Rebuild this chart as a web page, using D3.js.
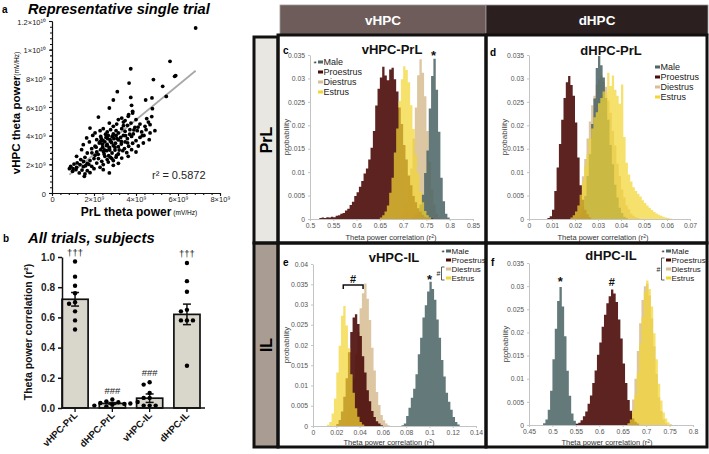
<!DOCTYPE html>
<html><head><meta charset="utf-8">
<script src="https://cdn.jsdelivr.net/npm/d3@7"></script>
<style>body{margin:0;background:#fff}svg{display:block;font-family:"Liberation Sans",Arial,sans-serif}</style>
</head><body><svg id="chart" width="709" height="454"></svg>
<script>
// ---------------- DATA ----------------
// Panel a: PrL theta power (x, ×1e9 mV/Hz) vs vHPC theta power (y, ×1e9 mV/Hz)
const scatterPoints = [
[2.21,5.30],[3.16,5.12],[3.32,5.23],[3.48,5.05],[3.63,5.35],[3.84,5.58],[4.00,5.12],[4.51,5.19],[4.75,5.33],
[2.73,4.88],[2.92,4.65],[3.08,4.81],[3.40,4.95],[3.59,4.72],[3.76,4.88],[3.95,4.58],[4.19,4.81],[4.43,4.65],[4.59,4.95],[4.67,4.77],
[1.81,4.53],[2.05,4.19],[2.29,4.35],[2.44,4.49],[2.63,4.26],[2.79,4.42],[2.92,4.12],[3.05,4.35],[3.16,4.19],[3.32,4.49],[3.48,4.30],[3.71,4.42],[3.87,4.12],[4.06,4.35],[4.27,4.26],[4.48,4.42],[4.67,4.19],[4.90,4.35],
[1.65,3.84],[1.94,4.02],[2.13,3.72],[2.32,3.95],[2.44,3.65],[2.57,3.88],[2.68,4.02],[2.76,3.72],[2.86,3.93],[2.95,3.79],[3.05,4.02],[3.16,3.70],[3.27,3.88],[3.40,4.02],[3.59,3.79],[3.79,3.95],[4.00,3.65],[4.19,3.88],[4.38,4.02],[4.63,3.72],
[1.49,3.37],[1.78,3.56],[2.05,3.26],[2.25,3.49],[2.41,3.19],[2.52,3.56],[2.63,3.37],[2.73,3.19],[2.84,3.51],[2.92,3.30],[3.02,3.47],[3.16,3.23],[3.30,3.42],[3.48,3.56],[3.65,3.26],[3.84,3.47],[4.11,3.28],[4.35,3.49],
[1.41,3.02],[1.68,2.79],[1.89,3.09],[2.13,2.86],[2.32,3.02],[2.48,2.72],[2.60,2.95],[2.73,3.09],[2.86,2.79],[3.00,3.00],[3.16,2.72],[3.37,2.95],[3.56,2.81],[3.79,3.02],[4.00,2.86],
[1.17,2.56],[1.37,2.33],[1.57,2.49],[1.81,2.26],[2.05,2.63],[2.21,2.40],[2.37,2.21],[2.52,2.56],[2.63,2.33],[2.79,2.49],[2.92,2.26],[3.08,2.63],[3.32,2.44],[3.63,2.56],
[0.89,1.86],[1.05,2.02],[1.17,1.79],[1.33,1.98],[1.49,1.84],[1.68,2.07],[1.89,1.86],[2.13,2.09],[2.29,1.79],[2.44,1.98],[2.68,2.16],[2.92,1.93],[3.16,2.07],
[0.83,1.70],[0.98,1.51],[1.14,1.63],[1.30,1.40],[1.43,1.60],[1.57,1.33],[1.68,1.56],[1.81,1.42],[2.00,1.70],[2.44,1.63],[2.73,1.40],[1.54,1.16],
[2.50,3.00],[2.60,3.30],[2.70,2.60],[2.80,3.60],[2.90,4.00],[3.00,3.20],[3.10,3.80],[2.40,3.40],[2.20,2.70],[2.35,3.80],[2.55,4.10],[2.75,3.00],[3.20,3.00],[3.30,3.60],[3.45,3.10],[3.50,4.00],[3.60,3.50],[2.00,2.40],[1.90,2.80],[2.10,3.20],[1.75,2.00],[1.60,1.90],[1.50,2.20],[1.20,2.10],[1.00,1.70],[2.65,3.80],[2.85,2.40],[3.05,2.50],[3.70,4.10],[3.90,4.40],[4.10,4.60],[4.30,4.00],[3.40,4.70],[2.45,2.90],[2.30,3.60],
[6.84,11.51],[5.62,9.19],[5.89,8.19],[5.84,8.14],[3.75,8.67],[3.67,7.67],[4.83,7.91],[5.27,7.44],[5.44,6.74],[3.11,7.07],[2.92,6.49],[3.75,6.67],[4.76,6.63],[4.46,6.49],[2.73,5.93],[3.79,6.12],[3.84,5.70],[4.78,5.88],[3.65,5.47]
];
const fitSlope = 1.206, fitIntercept = 0.28, fitXRange = [0.83, 6.84];
const r2Text = "r² = 0.5872";
const scatterXTicks = [0,2,4,6,8];
const scatterXTickLabels = ["0","2×10⁹","4×10⁹","6×10⁹","8×10⁹"];
const scatterYTicks = [0,2,4,6,8,10,12];
const scatterYTickLabels = ["0","2×10⁹","4×10⁹","6×10⁹","8×10⁹","1×10¹⁰","1.2×10¹⁰"];

// Panel b
const barCategories = ["vHPC-PrL","dHPC-PrL","vHPC-IL","dHPC-IL"];
const barMeans = [0.72,0.03,0.065,0.62];
const barSEM = [0.045,0.006,0.028,0.068];
const barSubjects = [
  [0.97,0.87,0.81,0.76,0.70,0.69,0.64,0.58,0.52],
  [0.056,0.044,0.038,0.033,0.027,0.022,0.016,0.011,0.030],
  [0.171,0.155,0.100,0.067,0.067,0.016,0.016,0.016,0.040],
  [0.96,0.84,0.77,0.65,0.64,0.58,0.58,0.58,0.28]
];
const barMarks = ["†††","###","###","†††"];
const barYTicks = [0,0.2,0.4,0.6,0.8,1.0];

// Panels c–f: bootstrap histograms (probability per bin)
const seriesNames = ["Male","Proestrus","Diestrus","Estrus"];
const seriesColors = ["#4e6767","#4a0b09","#d8bf95","#f2d633"];
const seriesOpacity = [0.88,0.9,0.88,0.72];
const drawOrder = [2,0,1,3];

// c: vHPC-PrL (bin 0.005)
const cStarts = [0.720,0.520,0.690,0.650];
const cMale = [.0003,.0009,.0014,.0031,.0052,.0098,.0146,.0236,.0305,.0342,.0276,.0186,.0088,.0038,.0011,.0003];
const cProestrus = [.0002,.0003,.0002,.0004,.0003,.0005,.0004,.0007,.0008,.0011,.0013,.0018,.0022,.0030,.0037,.0049,.0057,.0069,.0081,.0097,.0108,.0127,.0152,.0188,.0242,.0278,.0302,.0325,.0306,.0296,.0319,.0323,.0298,.0272,.0238,.0203,.0158,.0127,.0093,.0072,.0049,.0036,.0023,.0016,.0009,.0005,.0003,.0002,.0001];
const cDiestrus = [.0003,.0008,.0019,.0034,.0066,.0108,.0172,.0238,.0307,.0341,.0312,.0262,.0188,.0122,.0063,.0031,.0011,.0004];
const cEstrus = [.0003,.0008,.0016,.0029,.0056,.0088,.0142,.0193,.0252,.0298,.0326,.0318,.0292,.0243,.0192,.0138,.0097,.0058,.0036,.0017,.0008,.0003];

// d: dHPC-PrL (bin 0.001)
const dStarts = [0.021,0.008,0.019,0.018];
const dMale = [.0003,.0010,.0026,.0049,.0092,.0138,.0203,.0257,.0322,.0348,.0328,.0302,.0258,.0212,.0158,.0117,.0073,.0046,.0024,.0013,.0005,.0002];
const dProestrus = [.0002,.0006,.0020,.0060,.0110,.0160,.0212,.0258,.0292,.0305,.0286,.0263,.0206,.0131,.0072,.0041,.0020,.0010,.0004];
const dDiestrus = [.0003,.0010,.0026,.0049,.0091,.0128,.0172,.0208,.0243,.0263,.0287,.0298,.0306,.0293,.0282,.0253,.0227,.0188,.0157,.0118,.0092,.0063,.0046,.0029,.0021,.0011,.0007,.0004,.0002];
const dEstrus = [.0003,.0008,.0016,.0029,.0052,.0079,.0112,.0138,.0172,.0193,.0217,.0228,.0247,.0258,.0272,.0268,.0312,.0284,.0306,.0276,.0263,.0246,.0287,.0175,.0120,.0095,.0080,.0068,.0060,.0054,.0048,.0040,.0034,.0029,.0024,.0019,.0015,.0012,.0009,.0007,.0005,.0003,.0002,.0001];

// e: vHPC-IL (bin 0.002)
const eStarts = [0.076,0.020,0.024,0.012];
const eMale = [.0002,.0006,.0025,.0045,.0070,.0092,.0128,.0177,.0218,.0268,.0298,.0332,.0356,.0338,.0312,.0263,.0218,.0163,.0122,.0082,.0060,.0040,.0022,.0010,.0004];
const eProestrus = [.0005,.0015,.0036,.0072,.0118,.0182,.0232,.0268,.0276,.0252,.0222,.0172,.0132,.0088,.0061,.0037,.0022,.0012,.0006,.0002];
const eDiestrus = [.0003,.0008,.0021,.0040,.0076,.0118,.0177,.0232,.0291,.0328,.0352,.0314,.0262,.0193,.0137,.0084,.0052,.0027,.0014,.0006,.0002];
const eEstrus = [.0003,.0010,.0031,.0068,.0132,.0198,.0272,.0296,.0248,.0192,.0128,.0082,.0044,.0023,.0010,.0004];

// f: dHPC-IL (bin 0.005)
const fStarts = [0.480,0.550,0.655,0.660];
const fMale = [.0004,.0012,.0033,.0074,.0142,.0208,.0268,.0298,.0256,.0192,.0117,.0063,.0025,.0009,.0003];
const fProestrus = [.0002,.0005,.0010,.0019,.0029,.0046,.0064,.0091,.0118,.0152,.0178,.0212,.0238,.0263,.0278,.0293,.0284,.0266,.0228,.0187,.0133,.0091,.0054,.0031,.0014,.0007,.0003];
const fDiestrus = [.0003,.0010,.0025,.0055,.0100,.0160,.0220,.0270,.0300,.0305,.0280,.0230,.0170,.0110,.0060,.0030,.0012,.0004];
const fEstrus = [.0004,.0012,.0031,.0066,.0114,.0176,.0233,.0287,.0312,.0294,.0256,.0198,.0142,.0089,.0053,.0027,.0014,.0006,.0002];

const xTicksC = [0.5,0.55,0.6,0.65,0.7,0.75,0.8,0.85];
const xTicksD = [0,0.01,0.02,0.03,0.04,0.05,0.06,0.07];
const xTicksE = [0,0.02,0.04,0.06,0.08,0.1,0.12,0.14];
const xTicksF = [0.45,0.5,0.55,0.6,0.65,0.7,0.75,0.8];
const yTicks035 = [0,0.005,0.01,0.015,0.02,0.025,0.03,0.035];
const yTicks040 = [0,0.005,0.01,0.015,0.02,0.025,0.03,0.035,0.04];

// ---------------- DRAW ----------------
const svg = d3.select("#chart");
const fmtTick = d => String(+d.toFixed(4));

// ===== Panel a =====
svg.append("text").attr("x",2).attr("y",13).attr("font-weight","bold").attr("font-size",10).text("a");
svg.append("text").attr("x",28).attr("y",13.5).attr("font-weight","bold").attr("font-style","italic").attr("font-size",14.6).text("Representative single trial");
const ax = d3.scaleLinear([0,8],[52,220]);
const ay = d3.scaleLinear([0,12],[193,21]);
const axMinor = svg.append("g").attr("transform","translate(0,193)")
  .call(d3.axisBottom(ax).tickValues(d3.range(0,8.01,0.4)).tickFormat("").tickSize(2).tickSizeOuter(0));
const ayMinor = svg.append("g").attr("transform","translate(52,0)")
  .call(d3.axisLeft(ay).tickValues(d3.range(0,12.01,0.4)).tickFormat("").tickSize(2).tickSizeOuter(0));
const axG = svg.append("g").attr("transform","translate(0,193)")
  .call(d3.axisBottom(ax).tickValues(scatterXTicks).tickFormat((d,i)=>scatterXTickLabels[i]).tickSize(3).tickSizeOuter(0));
const ayG = svg.append("g").attr("transform","translate(52,0)")
  .call(d3.axisLeft(ay).tickValues(scatterYTicks).tickFormat((d,i)=>scatterYTickLabels[i]).tickSize(3).tickSizeOuter(0));
[axMinor,ayMinor,axG,ayG].forEach(g=>{g.selectAll("path,line").attr("stroke","#111").attr("stroke-width",1.1);
  g.selectAll("text").attr("fill","#222").style("font-size","7.5px").style("font-family","Liberation Sans, Arial");});
axG.selectAll("text").attr("y",3.5);
ayG.selectAll("text").attr("dy","0.4em");
svg.append("line").attr("x1",ax(fitXRange[0])).attr("y1",ay(fitIntercept+fitSlope*fitXRange[0]))
  .attr("x2",ax(fitXRange[1])).attr("y2",ay(fitIntercept+fitSlope*fitXRange[1]))
  .attr("stroke","#a8a8a8").attr("stroke-width",1.8);
svg.append("g").selectAll("circle").data(scatterPoints).join("circle")
  .attr("cx",d=>ax(d[0])).attr("cy",d=>ay(d[1])).attr("r",1.9).attr("fill","#000");
svg.append("text").attr("x",152).attr("y",179).attr("font-size",11).attr("fill","#222").text(r2Text);
svg.append("text").attr("transform","translate(20,113) rotate(-90)").attr("text-anchor","middle")
  .call(t=>{t.append("tspan").attr("font-weight","bold").attr("font-size",11.5).text("vHPC theta power");
            t.append("tspan").attr("font-size",6.5).attr("dy",-1).text("(mV/Hz)");});
svg.append("text").attr("x",139).attr("y",216).attr("text-anchor","middle")
  .call(t=>{t.append("tspan").attr("font-weight","bold").attr("font-size",12).text("PrL theta power");
            t.append("tspan").attr("font-size",6.5).attr("dx",2).attr("dy",-1).text("(mV/Hz)");});

// ===== Panel b =====
svg.append("text").attr("x",3).attr("y",242).attr("font-weight","bold").attr("font-size",10).text("b");
svg.append("text").attr("x",28).attr("y",243).attr("font-weight","bold").attr("font-style","italic").attr("font-size",14.8).text("All trials, subjects");
const bx = d3.scaleBand(barCategories,[62,200]).paddingInner(0.3).paddingOuter(0);
const by = d3.scaleLinear([0,1],[408,257]);
svg.append("g").selectAll("rect").data(barMeans).join("rect")
  .attr("x",(d,i)=>bx(barCategories[i])).attr("y",d=>by(d)).attr("width",bx.bandwidth()).attr("height",d=>by(0)-by(d))
  .attr("fill","#d9d6cc").attr("stroke","#111").attr("stroke-width",1.7);
barMeans.forEach((m,i)=>{
  const cx = bx(barCategories[i]) + bx.bandwidth()/2, s = barSEM[i];
  const g = svg.append("g").attr("stroke","#111").attr("stroke-width",1.5);
  g.append("line").attr("x1",cx).attr("x2",cx).attr("y1",by(m-s)).attr("y2",by(m+s));
  g.append("line").attr("x1",cx-4).attr("x2",cx+4).attr("y1",by(m+s)).attr("y2",by(m+s));
  g.append("line").attr("x1",cx-4).attr("x2",cx+4).attr("y1",by(m-s)).attr("y2",by(m-s));
  const placed = [];
  barSubjects[i].forEach(v=>{
    const py = by(v);
    for (const off of [0,-6,6,-12,12,-18,18]) {
      if (placed.every(p=>Math.hypot(p[0]-(cx+off),p[1]-py)>=4.6)) { placed.push([cx+off,py]); break; }
    }
  });
  svg.append("g").selectAll("circle").data(placed).join("circle")
    .attr("cx",d=>d[0]).attr("cy",d=>d[1]).attr("r",2.2).attr("fill","#000");
  const top = d3.min(placed,p=>p[1]);
  svg.append("text").attr("x",cx).attr("y",top-6).attr("text-anchor","middle").attr("font-size",9.5).attr("fill","#222").text(barMarks[i]);
});
const byG = svg.append("g").attr("transform","translate(62,0)")
  .call(d3.axisLeft(by).tickValues(barYTicks).tickFormat(d3.format(".1f")).tickSize(4).tickSizeOuter(0));
byG.selectAll("path,line").attr("stroke","#111").attr("stroke-width",1.5);
byG.selectAll("text").attr("fill","#222").style("font-size","10px").style("font-weight","bold").style("font-family","Liberation Sans, Arial");
svg.append("line").attr("x1",62).attr("x2",205).attr("y1",408).attr("y2",408).attr("stroke","#111").attr("stroke-width",1.5);
barCategories.forEach(c=>{
  const cx = bx(c)+bx.bandwidth()/2;
  svg.append("line").attr("x1",cx).attr("x2",cx).attr("y1",408).attr("y2",412).attr("stroke","#111").attr("stroke-width",1.3);
  svg.append("text").attr("transform",`translate(${cx+3},${416}) rotate(-45)`).attr("text-anchor","end")
    .attr("font-weight","bold").attr("font-size",9.5).attr("fill","#111").text(c);
});
svg.append("text").attr("transform","translate(32,332) rotate(-90)").attr("text-anchor","middle")
  .attr("font-weight","bold").attr("font-size",10.5).attr("fill","#111").text("Theta power correlation (r²)");

// ===== Grid frame (right side) =====
svg.append("rect").attr("x",280).attr("y",5).attr("width",206).attr("height",30).attr("fill","#6d5c59").attr("stroke","#999").attr("stroke-width",0.8);
svg.append("rect").attr("x",486).attr("y",5).attr("width",222).attr("height",30).attr("fill","#2b1f1f").attr("stroke","#999").attr("stroke-width",0.8);
svg.append("text").attr("x",383).attr("y",25).attr("text-anchor","middle").attr("fill","#fff").attr("font-weight","bold").attr("font-size",13.5).text("vHPC");
svg.append("text").attr("x",597).attr("y",25).attr("text-anchor","middle").attr("fill","#fff").attr("font-weight","bold").attr("font-size",13.5).text("dHPC");
svg.append("rect").attr("x",254).attr("y",37).attr("width",24).attr("height",206).attr("fill","#e8e7e2");
svg.append("rect").attr("x",254).attr("y",243).attr("width",24).attr("height",204).attr("fill","#a99c92");
svg.append("text").attr("transform","translate(272,140) rotate(-90)").attr("text-anchor","middle").attr("font-weight","bold").attr("font-size",16).text("PrL");
svg.append("text").attr("transform","translate(272,345) rotate(-90)").attr("text-anchor","middle").attr("font-weight","bold").attr("font-size",16).text("IL");

// ===== Histogram panels =====
const panels = [
  {letter:"c", title:"vHPC-PrL", xr:[310,473], yr:[219,55], xd:[0.5,0.85], yd:[0,0.035], xt:xTicksC, yt:yTicks035, step:0.005,
   starts:cStarts, series:[cMale,cProestrus,cDiestrus,cEstrus], letterXY:[283,54], titleXY:[392,54],
   legend:{x:318,y:62,dy:10,fs:9,star:true}, xlab:[391,240], ylabX:289,
   marks:[{t:"*",x:0.765,y:0.0355}]},
  {letter:"d", title:"dHPC-PrL", xr:[529,690], yr:[219,55], xd:[0,0.07], yd:[0,0.035], xt:xTicksD, yt:yTicks035, step:0.001,
   starts:dStarts, series:[dMale,dProestrus,dDiestrus,dEstrus], letterXY:[490,56], titleXY:[611,55],
   legend:{x:655,y:67,dy:10,fs:9,star:false}, xlab:[603,240], ylabX:507, marks:[]},
  {letter:"e", title:"vHPC-IL", xr:[313,476], yr:[426,264], xd:[0,0.14], yd:[0,0.04], xt:xTicksE, yt:yTicks040, step:0.002,
   starts:eStarts, series:[eMale,eProestrus,eDiestrus,eEstrus], letterXY:[283,266], titleXY:[394,262],
   legend:{x:446,y:251,dy:9,fs:8,star:true, hashRows:[2,3]}, xlab:[389,445], ylabX:289,
   marks:[{t:"*",x:0.1,y:0.0368}], bracket:{x1:0.026,x2:0.043,y:0.0348,t:"#"}},
  {letter:"f", title:"dHPC-IL", xr:[529,693], yr:[425,263], xd:[0.45,0.8], yd:[0,0.035], xt:xTicksF, yt:yTicks035, step:0.005,
   starts:fStarts, series:[fMale,fProestrus,fDiestrus,fEstrus], letterXY:[491,266], titleXY:[611,260],
   legend:{x:666,y:251,dy:9,fs:8,star:true, hashRows:[1,3]}, xlab:[607,445], ylabX:508,
   marks:[{t:"*",x:0.517,y:0.0316},{t:"#",x:0.627,y:0.031}]}
];

panels.forEach(p=>{
  const x = d3.scaleLinear(p.xd,p.xr), y = d3.scaleLinear(p.yd,p.yr);
  const g = svg.append("g");
  const xa = g.append("g").attr("transform",`translate(0,${p.yr[0]})`)
    .call(d3.axisBottom(x).tickValues(p.xt).tickFormat(fmtTick).tickSize(2).tickSizeOuter(0));
  const ya = g.append("g").attr("transform",`translate(${p.xr[0]},0)`)
    .call(d3.axisLeft(y).tickValues(p.yt).tickFormat(fmtTick).tickSize(2).tickSizeOuter(0));
  [xa,ya].forEach(a=>{a.selectAll("path,line").attr("stroke","#c4c4c4");
    a.selectAll("text").attr("fill","#555").style("font-size","6.8px").style("font-family","Liberation Sans, Arial");});
  xa.selectAll("text").attr("y",4);
  const area = d3.area().x(d=>x(d[0])).y0(y(0)).y1(d=>y(d[1])).curve(d3.curveStepAfter);
  drawOrder.forEach(si=>{
    const vals = p.series[si], st = p.starts[si];
    const pts = vals.map((v,i)=>[st+i*p.step,v]);
    pts.push([st+vals.length*p.step,0]);
    g.append("path").attr("d",area(pts)).attr("fill",seriesColors[si]).attr("fill-opacity",seriesOpacity[si]);
  });
  g.append("text").attr("x",p.letterXY[0]).attr("y",p.letterXY[1]).attr("font-weight","bold").attr("font-size",10).text(p.letter);
  g.append("text").attr("x",p.titleXY[0]).attr("y",p.titleXY[1]).attr("text-anchor","middle").attr("font-weight","bold").attr("font-size",13).attr("fill","#111").text(p.title);
  g.append("text").attr("x",p.xlab[0]).attr("y",p.xlab[1]).attr("text-anchor","middle").attr("font-size",7.5).attr("fill","#333")
    .call(t=>{t.append("tspan").text("Theta power correlation (r");t.append("tspan").attr("font-size",5).attr("dy",-2.5).text("2");t.append("tspan").attr("dy",2.5).text(")");});
  g.append("text").attr("transform",`translate(${p.ylabX},${(p.yr[0]+p.yr[1])/2}) rotate(-90)`).attr("text-anchor","middle")
    .attr("font-size",8).attr("fill","#444").text("probability");
  const L = p.legend;
  seriesNames.forEach((n,i)=>{
    const yy = L.y + i*L.dy;
    g.append("rect").attr("x",L.x).attr("y",yy-1.5).attr("width",5).attr("height",3).attr("fill",seriesColors[i]);
    g.append("text").attr("x",L.x+5.5).attr("y",yy+3).attr("font-size",L.fs).attr("fill","#222").text(n);
  });
  if (L.star) g.append("text").attr("x",L.x-1.5).attr("y",L.y+4).attr("text-anchor","end").attr("font-size",8).attr("fill","#222").text("*");
  if (L.hashRows) {
    const y1 = L.y + L.hashRows[0]*L.dy - 2, y2 = L.y + L.hashRows[1]*L.dy + 2, bxp = L.x-1.5;
    g.append("path").attr("d",`M${bxp},${y1}H${bxp-3}V${y2}H${bxp}`).attr("fill","none").attr("stroke","#333").attr("stroke-width",0.8);
    g.append("text").attr("x",bxp-4).attr("y",(y1+y2)/2+2.5).attr("text-anchor","end").attr("font-size",7).attr("fill","#222").text("#");
  }
  p.marks.forEach(m=>{
    g.append("text").attr("x",x(m.x)).attr("y",y(m.y)+ (m.t==="*"?7:4)).attr("text-anchor","middle")
      .attr("font-size",m.t==="*"?13:11).attr("font-weight","bold").attr("fill","#111").text(m.t);
  });
  if (p.bracket) {
    const b = p.bracket, yb = y(b.y);
    g.append("path").attr("d",`M${x(b.x1)},${yb+4}V${yb}H${x(b.x2)}V${yb+4}`).attr("fill","none").attr("stroke","#111").attr("stroke-width",1.5);
    g.append("text").attr("x",(x(b.x1)+x(b.x2))/2).attr("y",yb-2).attr("text-anchor","middle").attr("font-size",11).attr("font-weight","bold").attr("fill","#111").text(b.t);
  }
});

// panel borders
const bord = svg.append("g").attr("fill","none").attr("stroke","#111").attr("stroke-width",3);
bord.append("rect").attr("x",254).attr("y",37).attr("width",24).attr("height",206);
bord.append("rect").attr("x",254).attr("y",243).attr("width",24).attr("height",204);
bord.append("rect").attr("x",278).attr("y",35).attr("width",208).attr("height",208);
bord.append("rect").attr("x",486).attr("y",35).attr("width",221).attr("height",208);
bord.append("rect").attr("x",278).attr("y",243).attr("width",208).attr("height",204);
bord.append("rect").attr("x",486).attr("y",243).attr("width",221).attr("height",204);
</script></body></html>
